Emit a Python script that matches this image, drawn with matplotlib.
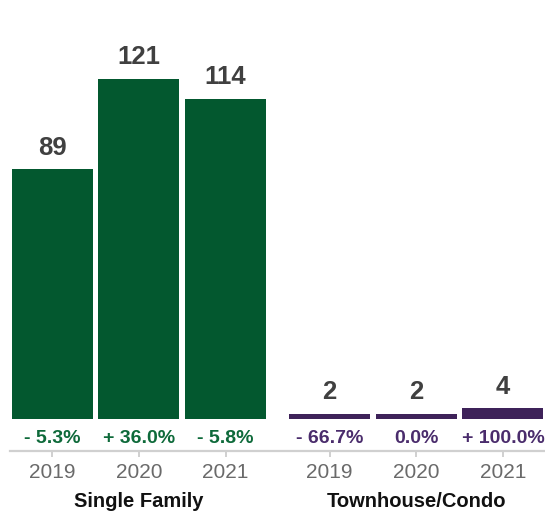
import matplotlib.pyplot as plt
import numpy as np

plt.rcParams['font.family'] = ['Liberation Sans', 'DejaVu Sans']

groups = ["Single Family", "Townhouse/Condo"]
years = ["2019", "2020", "2021"]
single_family = [89, 121, 114]
townhouse = [2, 2, 4]
sf_change = ["- 5.3%", "+ 36.0%", "- 5.8%"]
th_change = ["- 66.7%", "0.0%", "+ 100.0%"]

GREEN = "#03582f"
PURPLE = "#3e2259"
GREEN_TXT = "#0e6a3a"
PURPLE_TXT = "#4a2c6c"

def draw_group(ax, xs, vals, changes, color, txt_color):
    ax.bar(xs, vals, width=0.935, color=color)
    for x, v, c in zip(xs, vals, changes):
        ax.annotate(str(v), (x, v), xytext=(0, 10.5), textcoords="offset points",
                    ha="center", va="baseline", fontsize=18.5,
                    fontweight="bold", color="#404040")
        ax.text(x, -6.9, c, ha="center", va="center", fontsize=14,
                fontweight="bold", color=txt_color)

fig = plt.figure(figsize=(5.45, 5.17), dpi=100)
ax = fig.add_axes([10 / 545, 66 / 517, 535 / 545, 451 / 517])

x_sf = np.arange(3)
x_th = np.arange(3) + 3.2
draw_group(ax, x_sf, single_family, sf_change, GREEN, GREEN_TXT)
draw_group(ax, x_th, townhouse, th_change, PURPLE, PURPLE_TXT)

ax.set_xlim(-0.487, 5.685)
ax.set_ylim(-11.2, 149.1)

for s in ["top", "right", "left"]:
    ax.spines[s].set_visible(False)
ax.spines["bottom"].set_color("#d0d0d0")
ax.spines["bottom"].set_linewidth(1.6)
ax.set_yticks([])
ax.set_xticks(np.concatenate([x_sf, x_th]))
ax.set_xticklabels(years * 2)
ax.tick_params(axis="x", length=4.5, width=1.4, color="#d0d0d0",
               labelsize=15, labelcolor="#6a6a6a", pad=4)

# group names under the year labels
for name, xs in zip(groups, [x_sf, x_th]):
    ax.text(xs[1], -0.113, name, transform=ax.get_xaxis_transform(),
            ha="center", va="center", fontsize=14.5, fontweight="bold",
            color="#111111")

fig.savefig("out.png", dpi=100)
